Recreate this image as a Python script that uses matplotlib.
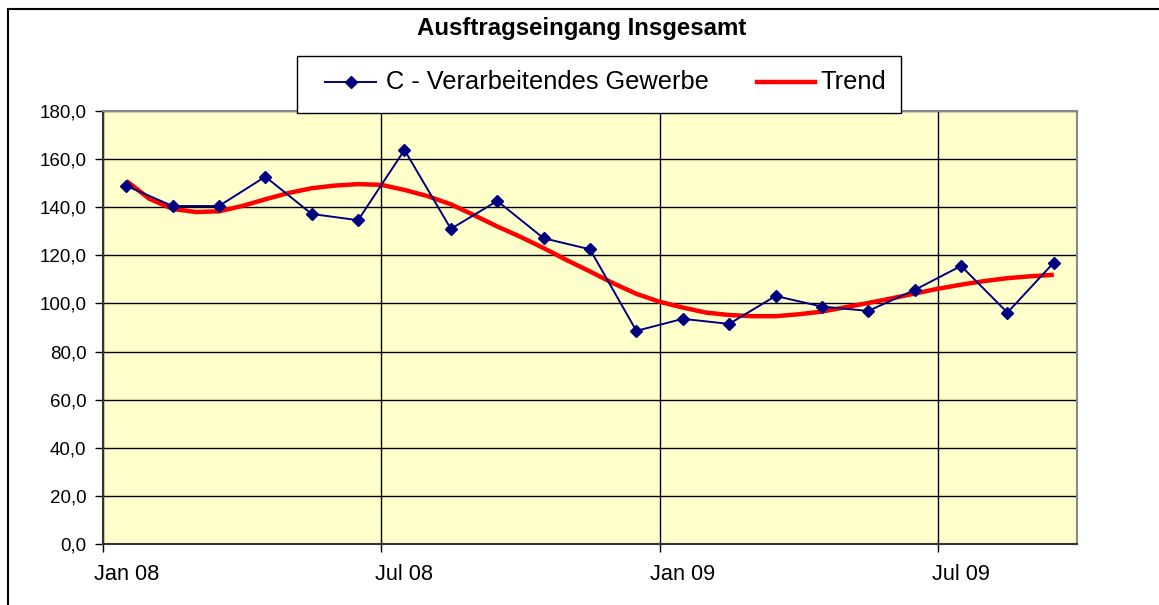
import matplotlib
matplotlib.use("Agg")
import matplotlib.pyplot as plt
from matplotlib.patches import Rectangle
from matplotlib.lines import Line2D
import numpy as np

plt.rcParams['font.family'] = ['Liberation Sans', 'DejaVu Sans']

# ---- data ----
months = ["Jan 08", "Feb 08", "Mrz 08", "Apr 08", "Mai 08", "Jun 08", "Jul 08",
          "Aug 08", "Sep 08", "Okt 08", "Nov 08", "Dez 08", "Jan 09", "Feb 09",
          "Mrz 09", "Apr 09", "Mai 09", "Jun 09", "Jul 09", "Aug 09", "Sep 09"]
series_values = [148.9, 140.5, 140.5, 152.7, 137.2, 134.6, 163.8, 131.0, 142.6,
                 127.1, 122.5, 88.6, 93.6, 91.5, 103.1, 98.7, 96.9, 105.6,
                 115.6, 96.2, 117.0]
# trend sampled every half month, from Jan 08 to Sep 09
trend_values = [151.0, 143.5, 139.3, 138.0, 138.3, 140.5, 143.3, 145.9, 147.9,
                149.0, 149.6, 149.3, 147.2, 144.6, 141.2, 136.7, 132.0, 127.7,
                123.0, 118.0, 113.3, 108.4, 104.0, 100.7, 98.3, 96.2, 95.2,
                94.7, 94.7, 95.5, 96.6, 98.4, 100.2, 102.1, 104.1, 106.1,
                107.8, 109.3, 110.5, 111.3, 111.9]
tick_labels = ["Jan 08", "Jul 08", "Jan 09", "Jul 09"]
tick_label_idx = [0, 6, 12, 18]
series_name = "C - Verarbeitendes Gewerbe"
trend_name = "Trend"
title = "Ausftragseingang Insgesamt"

W, H = 1159, 605
fig = plt.figure(figsize=(W / 100, H / 100), dpi=100)
fig.patch.set_facecolor('white')

def fx(px):
    return px / W

def fy(py):
    return 1 - py / H

ax = fig.add_axes([fx(103), fy(544), fx(1077) - fx(103), fy(111) - fy(544)])
ax.set_facecolor('#FFFFCC')

x = np.arange(len(series_values))
xt = np.arange(len(trend_values)) * 0.5

series_style = dict(color='#000080', lw=1.4, marker='D', markersize=6.5,
                    markerfacecolor='#000080', markeredgecolor='#000080')
trend_style = dict(color='#FF0000', lw=3.2)

ax.plot(xt, trend_values, zorder=3, solid_capstyle='butt', **trend_style)
ax.plot(x, series_values, zorder=4, **series_style)

ax.set_xlim(-0.5, len(series_values) - 0.5)
ax.set_ylim(0, 180)
ax.set_yticks(np.arange(0, 181, 20))
ax.set_yticklabels([f"{v:.1f}".replace('.', ',') for v in np.arange(0, 181, 20)])
ax.yaxis.grid(True, color='black', lw=1.0)
ax.set_axisbelow(True)

boundaries = [i - 0.5 for i in tick_label_idx]
ax.set_xticks(boundaries)
ax.set_xticklabels([''] * len(boundaries))
ax.set_xticks(tick_label_idx, minor=True)
ax.set_xticklabels(tick_labels, minor=True)
ax.xaxis.grid(True, which='major', color='black', lw=1.0)
ax.tick_params(axis='x', which='minor', length=0, pad=14.5, labelsize=15.7)
ax.tick_params(axis='x', which='major', length=6, width=1, direction='out')
ax.tick_params(axis='y', length=6, width=1, direction='out', pad=6,
               labelsize=13.5)

for s in ['left', 'bottom']:
    ax.spines[s].set_color('#333333')
    ax.spines[s].set_linewidth(1.5)
for s in ['top', 'right']:
    ax.spines[s].set_color('#888888')
    ax.spines[s].set_linewidth(1.5)

# title
fig.text(fx(582), fy(29), title, ha='center', va='center', fontsize=17.3,
         fontweight='bold')

# legend box (manual)
fig.add_artist(Rectangle((fx(297), fy(113)), fx(901) - fx(297), fy(56) - fy(113),
                         transform=fig.transFigure, facecolor='white',
                         edgecolor='black', lw=1.0, zorder=5))
ly = fy(82)
fig.add_artist(Line2D([fx(325), fx(376)], [ly, ly], transform=fig.transFigure,
                      zorder=6, color=series_style['color'], lw=series_style['lw']))
fig.add_artist(Line2D([fx(350.5)], [ly], transform=fig.transFigure, zorder=6,
                      linestyle='none',
                      **{k: v for k, v in series_style.items() if k not in ('color', 'lw')}))
fig.text(fx(386), ly, series_name, ha='left', va='center', fontsize=18.3, zorder=6)
fig.add_artist(Line2D([fx(757), fx(815)], [ly, ly], transform=fig.transFigure,
                      zorder=6, **trend_style))
fig.text(fx(820), ly, trend_name, ha='left', va='center', fontsize=18.3, zorder=6)

# outer chart frame (partially cropped)
fig.add_artist(Rectangle((fx(8), fy(H + 20)), fx(W + 20) - fx(8), fy(9) - fy(H + 20),
                         transform=fig.transFigure, facecolor='none',
                         edgecolor='black', lw=1.5, zorder=0))

fig.savefig('out.png', dpi=100, facecolor='white')
